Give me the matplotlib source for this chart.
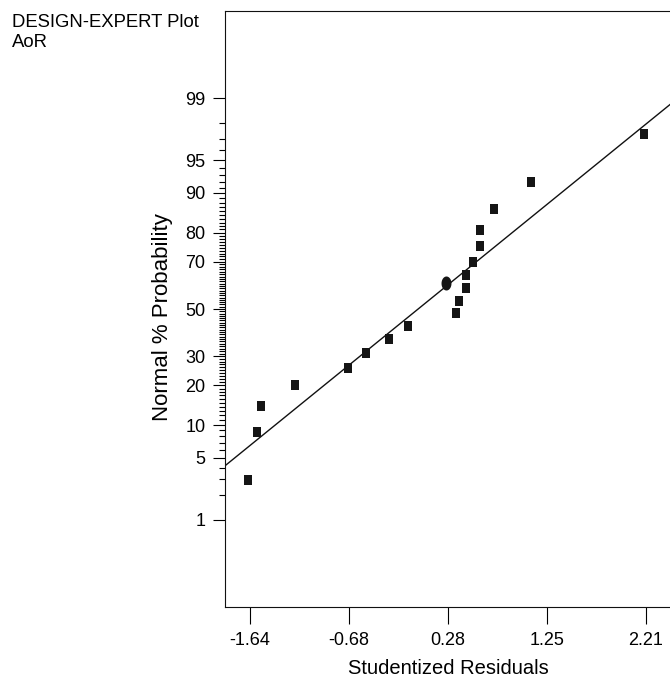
#!/usr/bin/env python3
"""Normal probability plot of studentized residuals (Design-Expert style)."""

from statistics import NormalDist

import matplotlib
matplotlib.use("Agg")
import matplotlib.pyplot as plt
import numpy as np

plt.rcParams["font.family"] = ["Liberation Sans", "DejaVu Sans"]

# residuals (x) and their normal % probability (y)
resid = [-1.660, -1.572, -1.536, -1.208, -0.692, -0.516, -0.293, -0.105,
         0.360, 0.392, 0.460, 0.460, 0.525, 0.601, 0.601, 0.730, 1.090, 2.194]
prob = [2.92, 8.7, 14.3, 20.1, 25.8, 31.4, 36.9, 42.4,
        48.1, 53.5, 59.1, 64.5, 70.0, 75.6, 80.8, 86.5, 91.9, 97.3]

# the one point drawn as a round marker
circle_resid = [0.270]
circle_prob = [61.1]

# reference line ends
line_x = [-1.887, 2.446]
line_prob = [4.17, 98.8]

x_ticks = [-1.643, -0.680, 0.283, 1.246, 2.209]
x_labels = ["-1.64", "-0.68", "0.28", "1.25", "2.21"]
y_major = [1, 5, 10, 20, 30, 50, 70, 80, 90, 95, 99]
y_minor = [p for p in range(2, 99) if p not in y_major]

ND = NormalDist()


def z(pcts):
    return [ND.inv_cdf(p / 100.0) for p in pcts]


W, H = 670, 678
fig = plt.figure(figsize=(W / 100, H / 100), dpi=100)
ax = fig.add_axes([225 / W, (H - 607) / H, 447 / W, 596 / H])

rect = [(-0.35, -0.5), (0.35, -0.5), (0.35, 0.5), (-0.35, 0.5), (-0.35, -0.5)]
t = np.linspace(0, 2 * np.pi, 40)
ellipse = list(zip(0.355 * np.cos(t), 0.5 * np.sin(t)))

ax.plot(line_x, z(line_prob), color="#111111", lw=1.0, zorder=2)
ax.plot(resid, z(prob), ls="none", marker=rect, ms=7.7,
        mfc="#151515", mec="#151515", mew=0, zorder=3)
ax.plot(circle_resid, z(circle_prob), ls="none", marker=ellipse, ms=10.1,
        mfc="#151515", mec="#151515", mew=0, zorder=3)

ax.set_xlim(-1.887, 2.466)
ax.set_ylim(ND.inv_cdf(0.0005), ND.inv_cdf(0.9995))

ax.set_xticks(x_ticks)
ax.set_xticklabels(x_labels)
ax.set_yticks(z(y_major))
ax.set_yticklabels([str(p) for p in y_major])
ax.set_yticks(z(y_minor), minor=True)
ax.xaxis.set_minor_locator(matplotlib.ticker.NullLocator())

ax.tick_params(axis="x", which="major", length=12, width=0.8, pad=6,
               labelsize=13, direction="out")
ax.tick_params(axis="y", which="major", length=8.6, width=0.8, pad=5.5,
               labelsize=13, direction="out")
ax.tick_params(axis="y", which="minor", length=4.3, width=0.8, direction="out")

for s in ax.spines.values():
    s.set_linewidth(0.8)
    s.set_color("#111111")

ax.set_xlabel("Studentized Residuals", fontsize=14.5, labelpad=7.5)
ax.set_ylabel("Normal % Probability", fontsize=16)
ax.yaxis.set_label_coords(-52 / 447, 0.487)

fig.text(12 / W, 1 - 27 / H, "DESIGN-EXPERT Plot", fontsize=13.3, va="baseline")
fig.text(12 / W, 1 - 47 / H, "AoR", fontsize=13.3, va="baseline")

fig.savefig("out.png", dpi=100)
